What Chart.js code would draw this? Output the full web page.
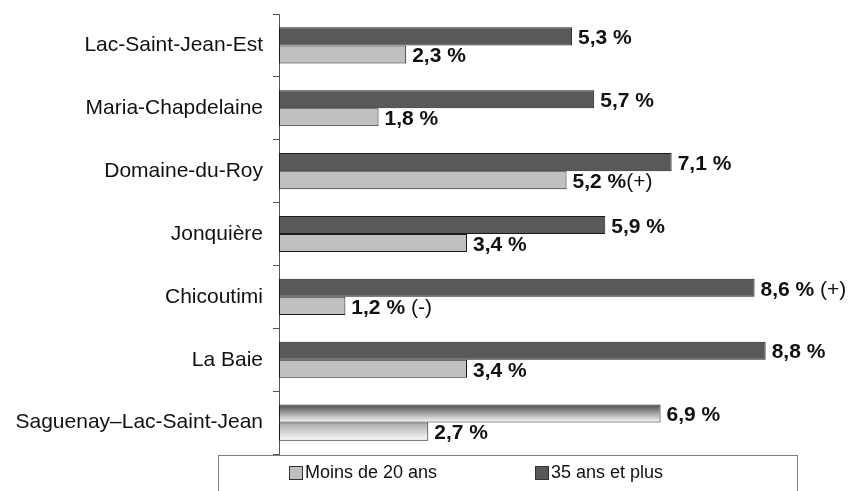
<!DOCTYPE html>
<html lang="fr">
  <head>
    <meta charset="UTF-8" />
    <title>Moins de 20 ans / 35 ans et plus</title>
    <script src="https://cdn.jsdelivr.net/npm/chart.js@4.4.1/dist/chart.umd.min.js"></script>
    <style>
      body {
        margin: 0;
        padding: 0;
        background: #fff;
      }
      #chart {
        display: block;
      }
    </style>
  </head>
  <body>
    <canvas id="chart" width="854" height="491"></canvas>

    <script>
      // Data
      const territoires = [
        "Lac-Saint-Jean-Est",
        "Maria-Chapdelaine",
        "Domaine-du-Roy",
        "Jonquière",
        "Chicoutimi",
        "La Baie",
        "Saguenay–Lac-Saint-Jean",
      ];
      const age35Plus = [5.3, 5.7, 7.1, 5.9, 8.6, 8.8, 6.9];
      const moins20 = [2.3, 1.8, 5.2, 3.4, 1.2, 3.4, 2.7];
      // significance marks written after the values
      const marque35Plus = ["", "", "", "", " (+)", "", ""];
      const marqueMoins20 = ["", "", "(+)", "", " (-)", "", ""];

      const FONT = "'Liberation Sans', Arial, sans-serif";
      const DARK = "#595959";
      const LIGHT = "#c0c0c0";
      const CAT_PCT = 0.575;

      // last row (whole region) gets a shaded fill
      function fill(base, top, bottom, position) {
        return function (c) {
          if (c.dataIndex !== territoires.length - 1) return base;
          const chart = c.chart;
          const y = chart.scales.y;
          if (!y) return base;
          const center = y.getPixelForValue(c.dataIndex);
          const half = (y.height / territoires.length) * CAT_PCT / 2;
          const y0 = position === 0 ? center - half : center;
          const g = chart.ctx.createLinearGradient(0, y0, 0, y0 + half);
          g.addColorStop(0, top);
          g.addColorStop(1, bottom);
          return g;
        };
      }

      const valueLabels = {
        id: "valueLabels",
        afterDatasetsDraw(chart) {
          const ctx = chart.ctx;
          const marks = [marque35Plus, marqueMoins20];
          ctx.save();
          ctx.fillStyle = "#111";
          ctx.textBaseline = "middle";
          chart.data.datasets.forEach((ds, i) => {
            chart.getDatasetMeta(i).data.forEach((bar, j) => {
              const txt = ds.data[j].toFixed(1).replace(".", ",") + " %";
              const x = bar.x + 6;
              const y = bar.y + 2;
              ctx.font = "bold 21px " + FONT;
              ctx.fillText(txt, x, y);
              if (marks[i][j]) {
                const w = ctx.measureText(txt).width;
                ctx.font = "21px " + FONT;
                ctx.fillText(marks[i][j], x + w, y);
              }
            });
          });
          ctx.restore();
        },
      };

      const boxLegend = {
        id: "boxLegend",
        afterDraw(chart) {
          const ctx = chart.ctx;
          const top = chart.chartArea.bottom + 1;
          ctx.save();
          ctx.strokeStyle = "#7f7f7f";
          ctx.lineWidth = 1;
          ctx.strokeRect(218.5, top + 0.5, 579, 60);
          const items = chart.data.datasets.slice().reverse();
          const xs = [289, 535];
          ctx.font = "18px " + FONT;
          ctx.textBaseline = "middle";
          items.forEach((ds, k) => {
            const x = xs[k];
            const y = top + 11;
            ctx.fillStyle = ds.legendColor;
            ctx.fillRect(x + 0.5, y + 0.5, 13, 13);
            ctx.strokeStyle = "#333";
            ctx.strokeRect(x + 0.5, y + 0.5, 13, 13);
            ctx.fillStyle = "#111";
            ctx.fillText(ds.label, x + 16, y + 7.5);
          });
          ctx.restore();
        },
      };

      new Chart(document.getElementById("chart"), {
        type: "bar",
        data: {
          labels: territoires,
          datasets: [
            {
              label: "35 ans et plus",
              data: age35Plus,
              legendColor: DARK,
              backgroundColor: fill(DARK, "#4a4a4a", "#ffffff", 0),
              borderColor: "#1a1a1a",
              borderWidth: 1,
              borderSkipped: false,
              barPercentage: 1,
              categoryPercentage: CAT_PCT,
            },
            {
              label: "Moins de 20 ans",
              data: moins20,
              legendColor: LIGHT,
              backgroundColor: fill(LIGHT, "#a8a8a8", "#fcfcfc", 1),
              borderColor: "#1a1a1a",
              borderWidth: 1,
              borderSkipped: false,
              barPercentage: 1,
              categoryPercentage: CAT_PCT,
            },
          ],
        },
        options: {
          indexAxis: "y",
          responsive: false,
          animation: false,
          layout: {
            padding: { left: 0, right: 22, top: 14, bottom: 37 },
          },
          scales: {
            x: {
              display: false,
              min: 0,
              max: 10,
            },
            y: {
              afterFit(scale) {
                scale.width = 279;
                scale.paddingTop = 0;
                scale.paddingBottom = 0;
              },
              grid: {
                drawOnChartArea: false,
                tickLength: 6,
                tickColor: "#555",
                offset: true,
              },
              border: { color: "#555", width: 1 },
              ticks: {
                color: "#111",
                padding: 10,
                font: { family: FONT, size: 21 },
              },
            },
          },
          plugins: {
            legend: { display: false },
            tooltip: { enabled: false },
          },
        },
        plugins: [valueLabels, boxLegend],
      });
    </script>
  </body>
</html>
